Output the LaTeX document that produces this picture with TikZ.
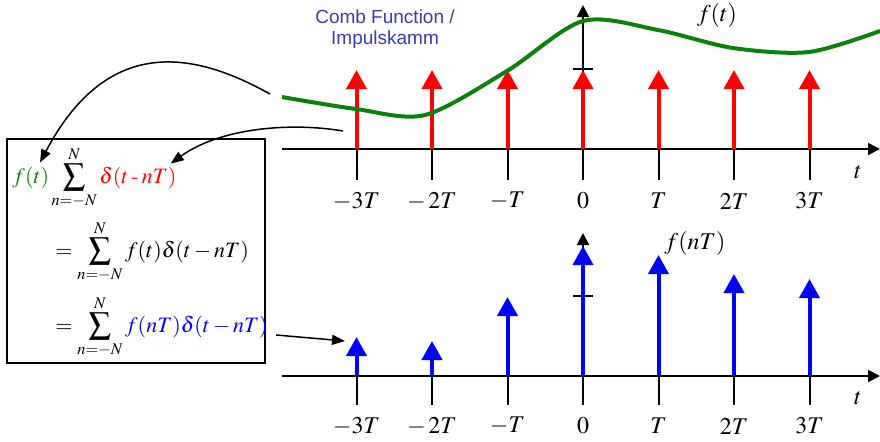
\documentclass[tikz,border=0pt]{standalone}
\usepackage{mathptmx}
\usepackage[no-math]{fontspec}
\usepackage{tikz}
\newfontfamily\combfont{Liberation Sans}
\usetikzlibrary{
    arrows.meta,
    positioning,
    calc
}
\definecolor{combBlue}{RGB}{60,60,170}
\definecolor{sigGreen}{RGB}{10,130,10}
\tikzset{
  axis/.style  = {-{Triangle[length=6pt, width=6pt]}, line width=1pt},
  tick/.style  = {line width=1pt},
  imp/.style   = {-{Triangle[length=9.5pt, width=10pt]}, line width=2pt},
  curve/.style = {sigGreen, line width=2pt},
  arr/.style   = {-{Triangle[length=6.5pt, width=5pt]}, line width=0.75pt},
  lbl/.style   = {inner sep=0pt, font=\fontsize{12}{14}\selectfont},
  eq/.style    = {inner sep=0pt, anchor=west, font=\fontsize{11}{13}\selectfont}
}

\begin{document}
\begin{tikzpicture}[x=0.5pt, y=-0.5pt]
  \useasboundingbox (0,0) rectangle (880,441);

  % Axes
  \coordinate (o1) at (583,149);
  \coordinate (o2) at (583,376);
  \draw[axis] (282,149) -- (880,149);
  \draw[axis] (282,376) -- (880,376);
  \draw[axis] (o1) -- (583,5);
  \draw[axis] (o2) -- (583,233);
  \draw[tick] (573,69) -- (593,69);
  \draw[tick] (573,296) -- (593,296);

  % Ticks and labels
  \foreach \k/\lab in {-3/{-3T}, -2/{-\,2T}, -1/{-T}, 0/{0}, 1/{T}, 2/{2T}, 3/{3T}} {
    \draw[tick] ({583+75.5*\k},149) -- ++(0,31);
    \draw[tick] ({583+75.5*\k},376) -- ++(0,29);
    \node[lbl] (ta\k) at ({583+75.5*\k},201) {$\lab$};
    \node[lbl] (tb\k) at ({583+75.5*\k},426) {$\lab$};
  }
  \node[lbl] (tA) at (858,172) {$t$};
  \node[lbl] (tB) at (858,398) {$t$};

  % Comb
  \foreach \k in {-3,...,3}
    \draw[imp, red] ({583+75.5*\k},149) -- ++(0,-79);

  % Signal
  \draw[curve] plot[smooth] coordinates {(282,97) (356,109) (425,115) (507,71)
    (583,21) (658,30) (733,48) (809,52) (880,31)};
  \node[lbl] (ftLabel) at (717,15) {$f(t)$};

  % Samples
  \foreach \k/\h in {-3/39, -2/35, -1/79, 0/130, 1/121, 2/102, 3/97}
    \draw[imp, blue] ({583+75.5*\k},376) -- ++(0,-\h);
  \node[lbl] (fnTLabel) at (695,243) {$f(nT)$};

  \node[combBlue, align=center, font=\combfont\fontsize{9.5}{10.5}\selectfont]
    (comb) at (385,29) {Comb Function /\\Impulskamm};

  % Equations
  \node[draw, line width=0.6pt, minimum width=129pt, minimum height=112pt,
    inner sep=0pt] (box) at (136,251) {};
  \node[eq] (eqA) at (12,178)
    {$\color{sigGreen}f(t)\color{black}\displaystyle\sum_{n=-N}^{N}
      \color{red}\delta(t \mathbin{\mbox{-}} nT)$};
  \node[eq] (eqB) at (55,252)
    {$\displaystyle=\sum_{n=-N}^{N} f(t)\delta(t-nT)$};
  \node[eq] (eqC) at (55,327)
    {$\displaystyle=\sum_{n=-N}^{N} \color{blue}f(nT)\delta(t-nT)$};

  % Pointers
  \coordinate (gs) at (270,94);
  \coordinate (rs) at (343,131);
  \coordinate (bs) at (345,341);
  \coordinate (ftTip) at ([xshift=14pt, yshift=-8pt]eqA.north west);
  \coordinate (deltaTip) at ([xshift=-3pt, yshift=-8.5pt]eqA.north east);
  \draw[arr] (gs) .. controls (200,55) and (110,30) .. (ftTip);
  \draw[arr] (rs) .. controls (290,122) and (220,128) .. (deltaTip);
  \draw[arr] ([xshift=4pt, yshift=-4pt]eqC.east) -- (bs);
\end{tikzpicture}
\end{document}
